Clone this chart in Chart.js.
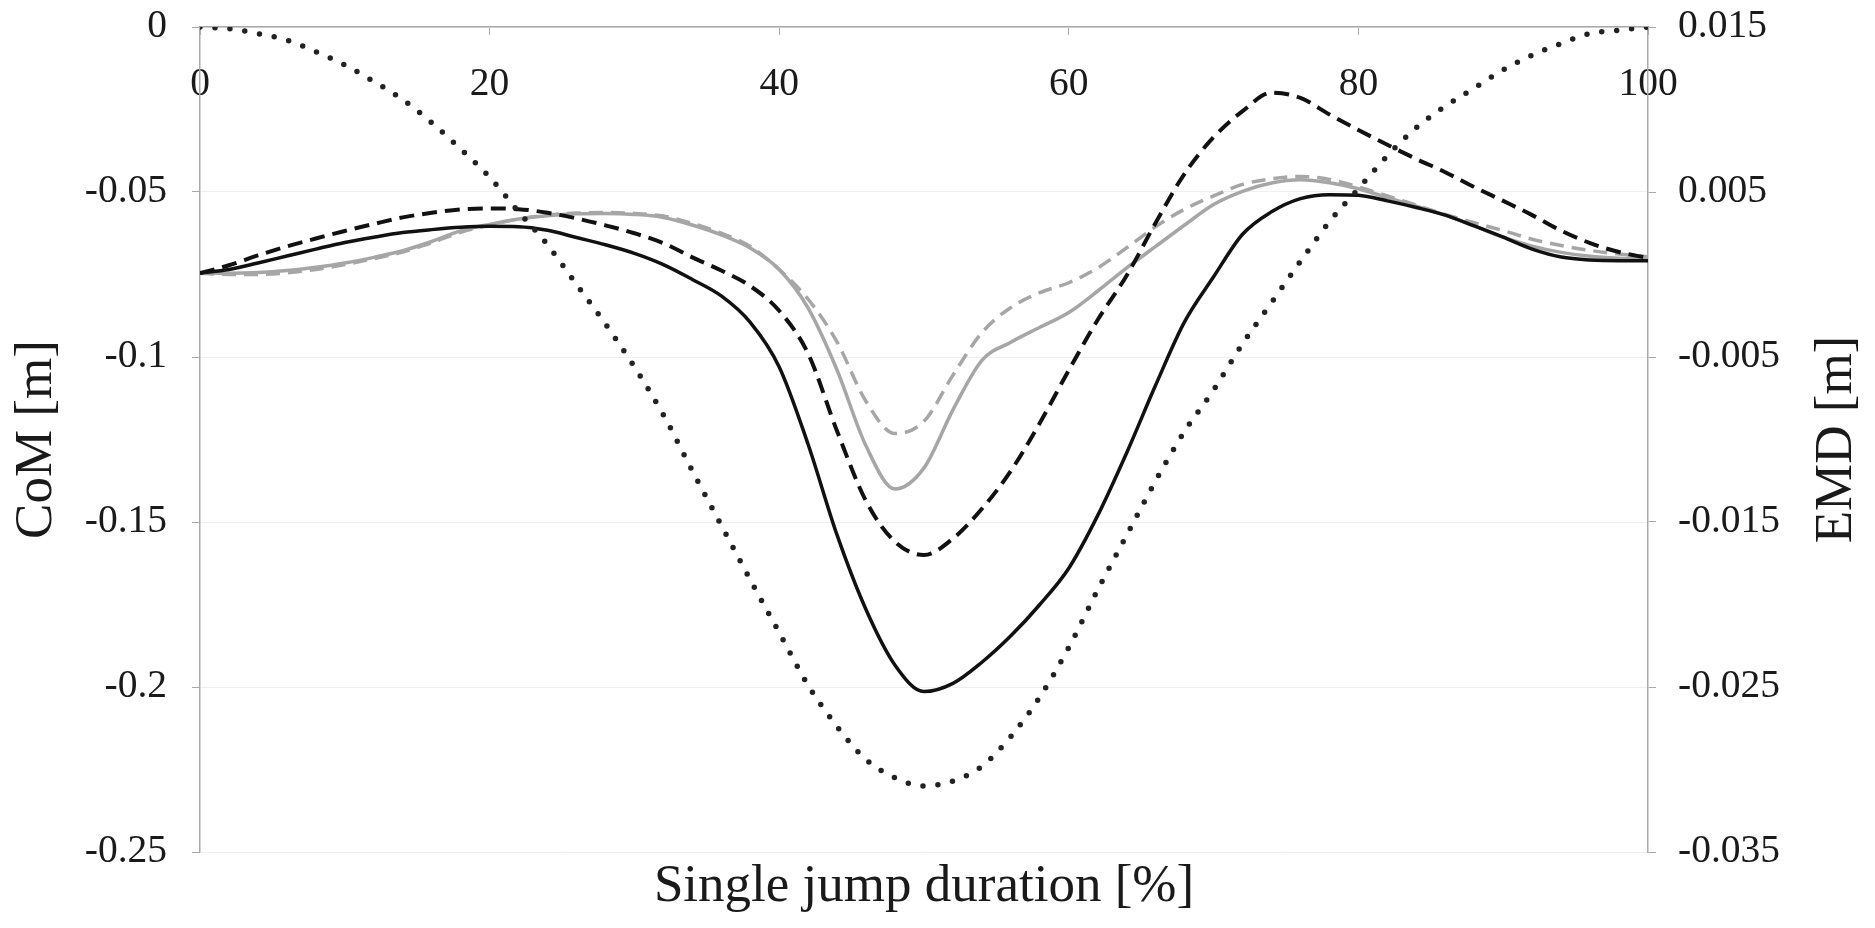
<!DOCTYPE html>
<html>
<head>
<meta charset="utf-8">
<title>CoM and EMD over a single jump</title>
<script src="https://cdn.jsdelivr.net/npm/chart.js@4.4.0/dist/chart.umd.min.js"></script>
<style>
  html, body { margin: 0; padding: 0; background: #fff; }
  canvas { display: block; }
</style>
</head>
<body>
<canvas id="jumpChart" width="1875" height="928"></canvas>
<script>
// x positions, % of the jump
const pct = [0, 2, 4, 6, 8, 10, 12, 14, 16, 18, 20, 22, 24, 26, 28, 30, 32, 34, 36, 38,
  40, 42, 44, 46, 48, 50, 52, 54, 56, 58, 60, 62, 64, 66, 68, 70, 72, 74, 76, 78,
  80, 82, 84, 86, 88, 90, 92, 94, 96, 98, 100];

// CoM [m], left axis
const comBlackSolid = [-0.0746, -0.0735, -0.0715, -0.0694, -0.0673, -0.0653, -0.0637, -0.0623, -0.0614, -0.0607,
  -0.0604, -0.0605, -0.0616, -0.0638, -0.0660, -0.0686, -0.0720, -0.0765, -0.0815, -0.0895,
  -0.1030, -0.1265, -0.1540, -0.1766, -0.1934, -0.2014, -0.1989, -0.1925, -0.1845, -0.1750,
  -0.1640, -0.1480, -0.1290, -0.1085, -0.0893, -0.0757, -0.0628, -0.0560, -0.0520, -0.0508,
  -0.0510, -0.0527, -0.0547, -0.0570, -0.0603, -0.0637, -0.0673, -0.0697, -0.0706, -0.0708, -0.0708];

const comBlackDashed = [-0.0746, -0.0722, -0.0692, -0.0665, -0.0641, -0.0618, -0.0597, -0.0577, -0.0563, -0.0553,
  -0.0550, -0.0552, -0.0563, -0.0580, -0.0601, -0.0625, -0.0655, -0.0698, -0.0738, -0.0785,
  -0.0860, -0.0990, -0.1225, -0.1437, -0.1560, -0.1600, -0.1550, -0.1460, -0.1345, -0.1200,
  -0.1040, -0.0887, -0.0753, -0.0593, -0.0444, -0.0334, -0.0255, -0.0199, -0.0215, -0.0265,
  -0.0312, -0.0357, -0.0400, -0.0440, -0.0485, -0.0527, -0.0570, -0.0617, -0.0655, -0.0682, -0.0700];

const comGraySolid = [-0.0746, -0.0746, -0.0744, -0.0738, -0.0728, -0.0715, -0.0698, -0.0678, -0.0650, -0.0618,
  -0.0598, -0.0582, -0.0572, -0.0566, -0.0565, -0.0568, -0.0577, -0.0600, -0.0630, -0.0670,
  -0.0735, -0.0852, -0.1040, -0.1270, -0.1400, -0.1336, -0.1160, -0.1010, -0.0955, -0.0910,
  -0.0865, -0.0800, -0.0730, -0.0665, -0.0600, -0.0538, -0.0498, -0.0473, -0.0463, -0.0472,
  -0.0490, -0.0517, -0.0543, -0.0570, -0.0603, -0.0637, -0.0664, -0.0683, -0.0695, -0.0701, -0.0704];

const comGrayDashed = [-0.0746, -0.0750, -0.0750, -0.0745, -0.0735, -0.0720, -0.0702, -0.0682, -0.0654, -0.0622,
  -0.0600, -0.0582, -0.0570, -0.0564, -0.0562, -0.0565, -0.0573, -0.0595, -0.0625, -0.0665,
  -0.0735, -0.0825, -0.0955, -0.1135, -0.1232, -0.1195, -0.1055, -0.0926, -0.0850, -0.0805,
  -0.0775, -0.0730, -0.0669, -0.0605, -0.0552, -0.0512, -0.0477, -0.0460, -0.0453, -0.0462,
  -0.0485, -0.0512, -0.0540, -0.0568, -0.0593, -0.0617, -0.0643, -0.0662, -0.0677, -0.0688, -0.0696];

// EMD [m], right axis
const emdDotted = [0.0150, 0.0149, 0.0146, 0.0142, 0.0135, 0.0127, 0.0117, 0.0106, 0.0092, 0.0076,
  0.0059, 0.0038, 0.0018, -0.0006, -0.0030, -0.0056, -0.0085, -0.0119, -0.0152, -0.0185,
  -0.0217, -0.0249, -0.0274, -0.0294, -0.0305, -0.0310, -0.0307, -0.0298, -0.0280, -0.0256,
  -0.0226, -0.0191, -0.0158, -0.0125, -0.0095, -0.0070, -0.0042, -0.0017, 0.0008, 0.0032,
  0.0052, 0.0072, 0.0089, 0.0102, 0.0113, 0.0124, 0.0133, 0.0140, 0.0146, 0.0148, 0.0150];

const serif = "'Liberation Serif', 'Times New Roman', serif";
const textColor = '#1a1a1a';
const axisGray = '#a9a9a9';
const tickFont = { family: serif, size: 39.5 };
const titleFont = { family: serif, size: 53 };

function points(values) {
    return values.map((v, i) => ({ x: pct[i], y: v }));
}

function tickText(v) {
    return String(+v.toFixed(3));
}

// chart.js turns a right hand title top-to-bottom, this one reads upwards
const emdTitle = {
    id: 'emdTitle',
    afterDraw(chart) {
        const { ctx, chartArea } = chart;
        ctx.save();
        ctx.translate(chart.width - 38, (chartArea.top + chartArea.bottom) / 2);
        ctx.rotate(-Math.PI / 2);
        ctx.font = '53px ' + serif;
        ctx.fillStyle = textColor;
        ctx.textAlign = 'center';
        ctx.textBaseline = 'middle';
        ctx.fillText('EMD [m]', 0, 0);
        ctx.restore();
    }
};

new Chart(document.getElementById('jumpChart'), {
    type: 'line',
    data: {
        datasets: [
            {
                label: 'EMD',
                data: points(emdDotted),
                yAxisID: 'y2',
                borderColor: '#222',
                borderWidth: 5.5,
                borderDash: [0, 15],
                borderCapStyle: 'round'
            },
            {
                label: 'CoM black',
                data: points(comBlackSolid),
                borderColor: '#111',
                borderWidth: 3.5
            },
            {
                label: 'CoM black dashed',
                data: points(comBlackDashed),
                borderColor: '#111',
                borderWidth: 4,
                borderDash: [15, 8]
            },
            {
                label: 'CoM gray',
                data: points(comGraySolid),
                borderColor: '#a6a6a6',
                borderWidth: 3.5
            },
            {
                label: 'CoM gray dashed',
                data: points(comGrayDashed),
                borderColor: '#a6a6a6',
                borderWidth: 3.5,
                borderDash: [14, 8]
            }
        ]
    },
    options: {
        responsive: false,
        devicePixelRatio: 1,
        animation: false,
        layout: { padding: 0 },
        elements: {
            point: { radius: 0 },
            line: { cubicInterpolationMode: 'monotone', fill: false }
        },
        plugins: {
            legend: { display: false },
            tooltip: { enabled: false }
        },
        scales: {
            x: {
                type: 'linear',
                position: 'top',
                min: 0,
                max: 100,
                ticks: { stepSize: 20, mirror: true, padding: 34, font: tickFont, color: textColor },
                grid: { drawOnChartArea: false, tickLength: -8, color: axisGray },
                border: { color: axisGray, width: 1.5 },
                afterFit: s => { s.height = 27; s.paddingLeft = 0; s.paddingRight = 0; }
            },
            x2: {
                type: 'linear',
                position: 'bottom',
                min: 0,
                max: 100,
                ticks: { display: false },
                grid: { display: false },
                border: { display: false },
                title: {
                    display: true,
                    text: 'Single jump duration [%]',
                    font: titleFont,
                    color: textColor,
                    padding: { top: 0, bottom: 9 }
                },
                afterFit: s => { s.height = 76; s.paddingLeft = 0; s.paddingRight = 0; }
            },
            y: {
                type: 'linear',
                position: 'left',
                min: -0.25,
                max: 0,
                ticks: { stepSize: 0.05, padding: 25, callback: tickText, font: tickFont, color: textColor },
                grid: { color: '#eeeeee', tickColor: axisGray, tickLength: 8 },
                border: { color: axisGray, width: 1.5 },
                title: {
                    display: true,
                    text: 'CoM [m]',
                    font: titleFont,
                    color: textColor,
                    padding: { top: 5, bottom: 0 }
                },
                afterFit: s => { s.width = 200; s.paddingTop = 0; s.paddingBottom = 0; }
            },
            y2: {
                type: 'linear',
                position: 'right',
                min: -0.035,
                max: 0.015,
                ticks: { stepSize: 0.01, padding: 22, callback: tickText, font: tickFont, color: textColor },
                grid: { drawOnChartArea: false, tickColor: axisGray, tickLength: 8 },
                border: { color: axisGray, width: 1.5 },
                afterFit: s => { s.width = 227; s.paddingTop = 0; s.paddingBottom = 0; }
            }
        }
    },
    plugins: [emdTitle]
});
</script>
</body>
</html>
